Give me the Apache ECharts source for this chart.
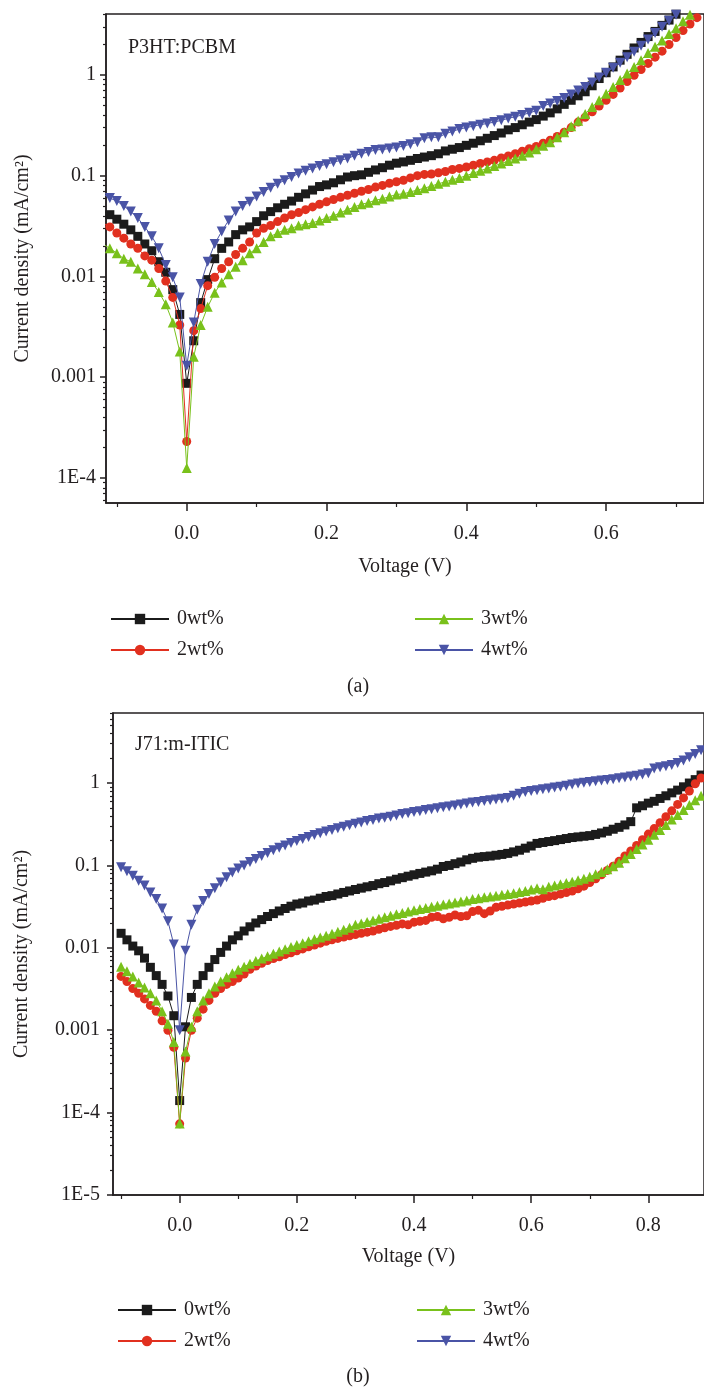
<!DOCTYPE html>
<html>
<head>
<meta charset="utf-8">
<title>J-V curves</title>
<script src="https://cdn.jsdelivr.net/npm/echarts@6/dist/echarts.min.js"></script>
<style>
  html,body{margin:0;padding:0;background:#fff;}
  #main{width:704px;height:1388px;}
</style>
</head>
<body>
<div id="main"></div>
<script>
// voltages (V)
const voltsA = [-0.12,-0.11,-0.10,-0.09,-0.08,-0.07,-0.06,-0.05,-0.04,-0.03,
  -0.02,-0.01,0.00,0.01,0.02,0.03,0.04,0.05,0.06,0.07,
  0.08,0.09,0.10,0.11,0.12,0.13,0.14,0.15,0.16,0.17,
  0.18,0.19,0.20,0.21,0.22,0.23,0.24,0.25,0.26,0.27,
  0.28,0.29,0.30,0.31,0.32,0.33,0.34,0.35,0.36,0.37,
  0.38,0.39,0.40,0.41,0.42,0.43,0.44,0.45,0.46,0.47,
  0.48,0.49,0.50,0.51,0.52,0.53,0.54,0.55,0.56,0.57,
  0.58,0.59,0.60,0.61,0.62,0.63,0.64,0.65,0.66,0.67,
  0.68,0.69,0.70,0.71,0.72,0.73]
const voltsB = [-0.10,-0.09,-0.08,-0.07,-0.06,-0.05,-0.04,-0.03,-0.02,-0.01,
  0.00,0.01,0.02,0.03,0.04,0.05,0.06,0.07,0.08,0.09,
  0.10,0.11,0.12,0.13,0.14,0.15,0.16,0.17,0.18,0.19,
  0.20,0.21,0.22,0.23,0.24,0.25,0.26,0.27,0.28,0.29,
  0.30,0.31,0.32,0.33,0.34,0.35,0.36,0.37,0.38,0.39,
  0.40,0.41,0.42,0.43,0.44,0.45,0.46,0.47,0.48,0.49,
  0.50,0.51,0.52,0.53,0.54,0.55,0.56,0.57,0.58,0.59,
  0.60,0.61,0.62,0.63,0.64,0.65,0.66,0.67,0.68,0.69,
  0.70,0.71,0.72,0.73,0.74,0.75,0.76,0.77,0.78,0.79,
  0.80,0.81,0.82,0.83,0.84,0.85,0.86,0.87,0.88,0.89]

// (a) P3HT:PCBM current density (mA/cm2)
const a0wt = [0.045,0.041,0.037,0.033,0.029,0.025,0.021,0.018,0.014,0.011,
  0.0074,0.0042,0.00087,0.0023,0.0055,0.0093,0.015,0.019,0.022,0.026,
  0.029,0.031,0.035,0.040,0.044,0.048,0.052,0.056,0.061,0.066,
  0.072,0.078,0.081,0.085,0.091,0.097,0.100,0.102,0.108,0.114,
  0.120,0.127,0.133,0.137,0.142,0.148,0.153,0.158,0.165,0.176,
  0.183,0.190,0.200,0.210,0.222,0.235,0.250,0.265,0.285,0.300,
  0.320,0.340,0.360,0.390,0.420,0.460,0.510,0.560,0.620,0.680,
  0.780,0.920,1.05,1.20,1.40,1.60,1.85,2.10,2.40,2.70,
  3.10,3.50,4.00]
const a2wt = [0.034,0.031,0.027,0.024,0.021,0.019,0.016,0.0145,0.012,0.009,
  0.0062,0.0033,0.00023,0.0029,0.0048,0.0081,0.0098,0.012,0.014,0.0165,
  0.019,0.022,0.027,0.030,0.032,0.035,0.038,0.041,0.043,0.046,
  0.049,0.052,0.055,0.058,0.061,0.064,0.067,0.070,0.073,0.077,
  0.080,0.084,0.087,0.090,0.095,0.100,0.103,0.104,0.107,0.110,
  0.115,0.118,0.122,0.127,0.132,0.137,0.142,0.150,0.157,0.165,
  0.175,0.185,0.195,0.210,0.225,0.245,0.270,0.300,0.340,0.380,
  0.430,0.490,0.560,0.640,0.740,0.860,0.990,1.13,1.30,1.50,
  1.72,2.00,2.35,2.75,3.20,3.70]
const a3wt = [0.021,0.019,0.017,0.015,0.014,0.012,0.0105,0.0088,0.0070,0.0053,
  0.0035,0.0018,0.000126,0.0016,0.0033,0.0050,0.0069,0.0087,0.0105,0.0125,
  0.0145,0.017,0.019,0.022,0.025,0.027,0.029,0.030,0.032,0.033,
  0.034,0.036,0.038,0.040,0.043,0.046,0.049,0.052,0.054,0.057,
  0.059,0.062,0.065,0.066,0.069,0.072,0.075,0.079,0.083,0.087,
  0.091,0.095,0.100,0.106,0.112,0.118,0.125,0.132,0.140,0.148,
  0.158,0.170,0.183,0.198,0.215,0.240,0.270,0.310,0.350,0.410,
  0.480,0.560,0.650,0.760,0.890,1.03,1.20,1.40,1.65,1.90,
  2.20,2.55,2.90,3.40,3.95]
const a4wt = [0.066,0.060,0.056,0.050,0.044,0.038,0.031,0.025,0.019,0.013,
  0.0098,0.0062,0.0013,0.0035,0.0084,0.014,0.021,0.028,0.036,0.044,
  0.050,0.055,0.062,0.069,0.076,0.083,0.090,0.097,0.105,0.112,
  0.118,0.125,0.130,0.136,0.142,0.148,0.158,0.165,0.172,0.180,
  0.182,0.186,0.190,0.197,0.205,0.215,0.235,0.240,0.240,0.260,
  0.275,0.290,0.300,0.310,0.320,0.330,0.340,0.355,0.370,0.385,
  0.400,0.420,0.440,0.490,0.520,0.550,0.590,0.640,0.700,0.760,
  0.840,0.940,1.05,1.18,1.32,1.50,1.70,1.95,2.25,2.60,
  3.00,3.45,3.95]

// (b) J71:m-ITIC current density (mA/cm2)
const b0wt = [0.015,0.0125,0.0105,0.0092,0.0075,0.0058,0.0046,0.0036,0.0026,0.0015,
  0.00014,0.0011,0.0025,0.0036,0.0046,0.0058,0.0072,0.0088,0.0105,0.0125,
  0.014,0.016,0.018,0.020,0.022,0.024,0.026,0.028,0.030,0.032,
  0.034,0.035,0.037,0.038,0.040,0.042,0.043,0.045,0.047,0.049,
  0.051,0.053,0.055,0.057,0.060,0.062,0.065,0.068,0.071,0.074,
  0.077,0.080,0.083,0.086,0.090,0.097,0.100,0.105,0.110,0.117,
  0.122,0.126,0.128,0.130,0.133,0.136,0.140,0.146,0.153,0.162,
  0.172,0.185,0.190,0.195,0.200,0.206,0.212,0.218,0.222,0.226,
  0.230,0.238,0.248,0.260,0.275,0.290,0.310,0.340,0.500,0.530,
  0.570,0.600,0.650,0.700,0.760,0.820,0.900,1.00,1.10,1.25]
const b2wt = [0.0045,0.0039,0.0032,0.0028,0.0024,0.0020,0.0017,0.0013,0.0010,0.00062,
  0.000073,0.00046,0.0010,0.0014,0.0018,0.0023,0.0028,0.0032,0.0036,0.0039,
  0.0043,0.0048,0.0055,0.0060,0.0065,0.0070,0.0074,0.0078,0.0083,0.0087,
  0.0092,0.0097,0.0103,0.0108,0.0114,0.0120,0.0125,0.0130,0.0135,0.0140,
  0.0145,0.0150,0.0155,0.0160,0.0168,0.0175,0.0182,0.0188,0.0195,0.0190,
  0.0205,0.0210,0.0215,0.0235,0.0240,0.0225,0.0235,0.0250,0.0240,0.0245,
  0.0275,0.0285,0.0260,0.0280,0.0310,0.0320,0.0330,0.0340,0.0350,0.0360,
  0.0370,0.0380,0.0400,0.0420,0.0430,0.0450,0.0470,0.0490,0.0520,0.0560,
  0.0620,0.0690,0.0770,0.0870,0.0980,0.112,0.130,0.150,0.175,0.205,
  0.240,0.280,0.330,0.390,0.460,0.550,0.660,0.800,0.980,1.15]
const b3wt = [0.0059,0.0052,0.0045,0.0038,0.0033,0.0028,0.0023,0.0017,0.0012,0.00072,
  0.000074,0.00055,0.0011,0.0017,0.0023,0.0028,0.0034,0.0039,0.0044,0.0049,
  0.0054,0.0059,0.0064,0.0069,0.0074,0.0079,0.0085,0.0090,0.0096,0.0102,
  0.0108,0.0114,0.0120,0.0127,0.0133,0.0140,0.0148,0.0157,0.0166,0.0175,
  0.0190,0.0198,0.0206,0.0215,0.0225,0.0235,0.0245,0.0255,0.0265,0.0275,
  0.0285,0.0295,0.0305,0.0315,0.0325,0.0335,0.0345,0.0355,0.0365,0.0375,
  0.0390,0.0400,0.0410,0.0420,0.0430,0.0440,0.0450,0.0460,0.0475,0.0490,
  0.0510,0.0530,0.0515,0.0550,0.0570,0.0590,0.0610,0.0635,0.0660,0.0690,
  0.0730,0.0780,0.0830,0.0900,0.098,0.108,0.122,0.138,0.158,0.180,
  0.205,0.235,0.270,0.310,0.360,0.410,0.470,0.540,0.620,0.700]
const b4wt = [0.095,0.085,0.075,0.065,0.057,0.047,0.039,0.030,0.021,0.011,
  0.0010,0.0092,0.019,0.029,0.037,0.045,0.053,0.062,0.072,0.082,
  0.092,0.100,0.110,0.120,0.130,0.142,0.153,0.164,0.175,0.187,
  0.198,0.210,0.222,0.234,0.246,0.258,0.270,0.282,0.295,0.308,
  0.320,0.333,0.345,0.357,0.370,0.380,0.390,0.405,0.420,0.430,
  0.445,0.455,0.470,0.480,0.495,0.510,0.520,0.535,0.550,0.565,
  0.580,0.590,0.605,0.620,0.630,0.645,0.660,0.700,0.740,0.780,
  0.800,0.820,0.840,0.860,0.880,0.900,0.930,0.960,0.990,1.01,
  1.03,1.05,1.07,1.09,1.11,1.14,1.17,1.20,1.23,1.27,
  1.31,1.50,1.55,1.60,1.66,1.75,1.88,2.05,2.25,2.50]

const seriesNames = ['0wt%','2wt%','3wt%','4wt%']

// axis ticks
const xMajorA = [0, 0.2, 0.4, 0.6]
const xMinorA = [-0.1, 0.1, 0.3, 0.5, 0.7]
const xMajorB = [0, 0.2, 0.4, 0.6, 0.8]
const xMinorB = [-0.1, 0.1, 0.3, 0.5, 0.7]
const yMajorA = [1e-4, 1e-3, 1e-2, 0.1, 1]
const yLabelsA = ['1E-4','0.001','0.01','0.1','1']
const yMinorA = [6e-5,7e-5,8e-5,9e-5,
  2e-4,3e-4,4e-4,5e-4,6e-4,7e-4,8e-4,9e-4,
  2e-3,3e-3,4e-3,5e-3,6e-3,7e-3,8e-3,9e-3,
  0.02,0.03,0.04,0.05,0.06,0.07,0.08,0.09,
  0.2,0.3,0.4,0.5,0.6,0.7,0.8,0.9,
  2,3,4]
const yMajorB = [1e-5, 1e-4, 1e-3, 1e-2, 0.1, 1]
const yLabelsB = ['1E-5','1E-4','0.001','0.01','0.1','1']
const yMinorB = [2e-5,3e-5,4e-5,5e-5,6e-5,7e-5,8e-5,9e-5,
  2e-4,3e-4,4e-4,5e-4,6e-4,7e-4,8e-4,9e-4,
  2e-3,3e-3,4e-3,5e-3,6e-3,7e-3,8e-3,9e-3,
  0.02,0.03,0.04,0.05,0.06,0.07,0.08,0.09,
  0.2,0.3,0.4,0.5,0.6,0.7,0.8,0.9,
  2,3,4,5,6,7]

const FONT = '"Liberation Serif", "Times New Roman", serif'
const INK = '#231f20'
const colors = ['#1b1b1b','#e1301f','#79c11b','#4a54a6']
const symbols = ['rect','circle','triangle','triangle']
const rotates = [0,0,0,180]
const sizes = [9,9,10,10]

function pairUp(volts, vals){
  return vals.map((v,i)=>[volts[i], v])
}

function logLabel(ticks, labels){
  return function(val){
    for(let i=0;i<ticks.length;i++){
      if(Math.abs(Math.log10(ticks[i]) - Math.log10(val)) < 1e-6) return labels[i]
    }
    return ''
  }
}

function makeSeries(i, volts, vals, axisIdx){
  return {
    name: seriesNames[i],
    type: 'line',
    xAxisIndex: axisIdx,
    yAxisIndex: axisIdx,
    data: pairUp(volts, vals),
    symbol: symbols[i],
    symbolRotate: rotates[i],
    symbolSize: sizes[i],
    showSymbol: true,
    showAllSymbol: true,
    color: colors[i],
    lineStyle: {width: 1, color: colors[i]},
    itemStyle: {color: colors[i]},
    z: 2 + i
  }
}

function xAxes(grid, min, max, major, minor){
  return [{
    gridIndex: grid, type: 'value', min: min, max: max, position: 'bottom',
    name: 'Voltage (V)', nameLocation: 'middle', nameGap: grid==0 ? 54 : 52,
    nameTextStyle: {fontFamily: FONT, fontSize: 20, color: INK},
    axisLine: {show: true, onZero: false, lineStyle: {color: INK, width: 1.5}},
    axisTick: {show: true, customValues: major, length: 8, lineStyle: {color: INK, width: 1.5}},
    axisLabel: {customValues: major, margin: 21, fontFamily: FONT, fontSize: 20, color: INK,
      formatter: v => v.toFixed(1)},
    splitLine: {show: false}
  },{
    gridIndex: grid, type: 'value', min: min, max: max, position: 'bottom',
    axisLine: {show: false, onZero: false},
    axisTick: {show: true, customValues: minor, length: 4, lineStyle: {color: INK, width: 1.2}},
    axisLabel: {show: false},
    splitLine: {show: false}
  }]
}

function yAxes(grid, min, max, major, labels, minor, gap, margin){
  return [{
    gridIndex: grid, type: 'log', logBase: 10, min: min, max: max, position: 'left',
    name: 'Current density (mA/cm\u00b2)', nameLocation: 'middle', nameRotate: 90, nameGap: gap,
    nameTextStyle: {fontFamily: FONT, fontSize: 20, color: INK},
    axisLine: {show: true, onZero: false, lineStyle: {color: INK, width: 1.5}},
    axisTick: {show: true, customValues: major, length: 6, lineStyle: {color: INK, width: 1.5}},
    axisLabel: {customValues: major, margin: margin, fontFamily: FONT, fontSize: 20, color: INK,
      formatter: logLabel(major, labels)},
    splitLine: {show: false}
  },{
    gridIndex: grid, type: 'log', logBase: 10, min: min, max: max, position: 'left',
    axisLine: {show: false, onZero: false},
    axisTick: {show: true, customValues: minor, length: 3, lineStyle: {color: INK, width: 1.2}},
    axisLabel: {show: false},
    splitLine: {show: false}
  }]
}

function legendCol(names, left, top){
  return {
    data: names, orient: 'vertical', left: left, top: top,
    itemWidth: 58, itemHeight: 13, itemGap: 11, selectedMode: false,
    textStyle: {fontFamily: FONT, fontSize: 20, color: INK, padding: [0,0,0,3], lineHeight: 20},
    lineStyle: {width: 2}
  }
}

function tag(text, x, y, align){
  return {type: 'text', x: x, y: y,
    style: {text: text, fontFamily: FONT, fontSize: 20, fill: INK, align: align || 'left', verticalAlign: 'middle'}}
}

const chart = echarts.init(document.getElementById('main'), null, {renderer: 'canvas'})

const option = {
  animation: false,
  backgroundColor: '#fff',
  grid: [
    {left: 106, top: 14, width: 600, height: 489, show: true, borderColor: INK, borderWidth: 1.5, backgroundColor: 'transparent'},
    {left: 113, top: 713, width: 594, height: 482, show: true, borderColor: INK, borderWidth: 1.5, backgroundColor: 'transparent'}
  ],
  xAxis: [].concat(
    xAxes(0, -0.1155, 0.74, xMajorA, xMinorA),
    xAxes(1, -0.1138, 0.895, xMajorB, xMinorB)
  ),
  yAxis: [].concat(
    yAxes(0, 5.65e-5, 4.02, yMajorA, yLabelsA, yMinorA, 73, 10),
    yAxes(1, 1e-5, 7.08, yMajorB, yLabelsB, yMinorB, 81, 13)
  ),
  legend: [
    legendCol(['0wt%','2wt%'], 105, 604),
    legendCol(['3wt%','4wt%'], 409, 604),
    legendCol(['0wt%','2wt%'], 112, 1295),
    legendCol(['3wt%','4wt%'], 411, 1295)
  ],
  graphic: [
    tag('P3HT:PCBM', 128, 48),
    tag('J71:m-ITIC', 135, 745),
    tag('(a)', 358, 687, 'center'),
    tag('(b)', 358, 1377, 'center')
  ],
  series: [
    makeSeries(0, voltsA, a0wt, 0),
    makeSeries(1, voltsA, a2wt, 0),
    makeSeries(2, voltsA, a3wt, 0),
    makeSeries(3, voltsA, a4wt, 0),
    makeSeries(0, voltsB, b0wt, 2),
    makeSeries(1, voltsB, b2wt, 2),
    makeSeries(2, voltsB, b3wt, 2),
    makeSeries(3, voltsB, b4wt, 2)
  ]
}

chart.setOption(option)
</script>
</body>
</html>
